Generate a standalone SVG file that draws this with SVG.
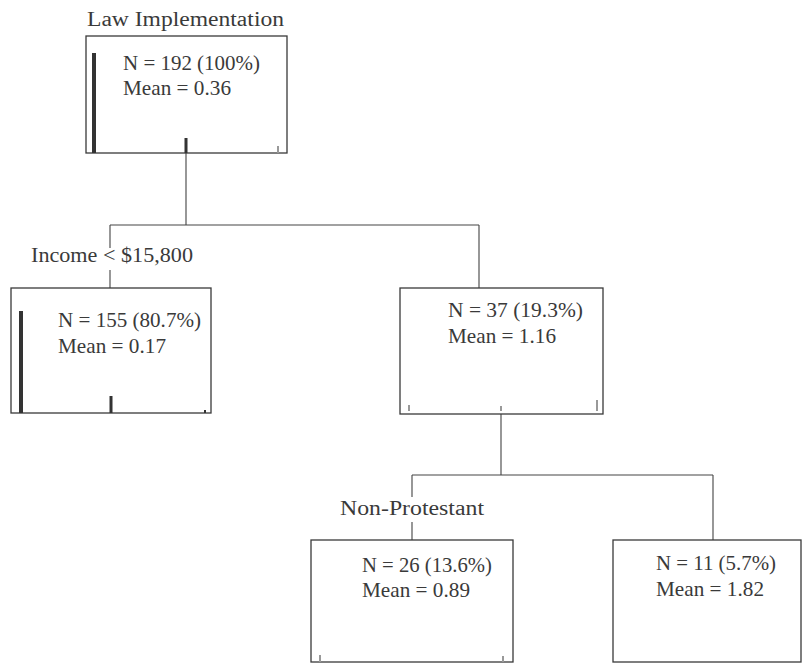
<svg xmlns="http://www.w3.org/2000/svg" width="802" height="664" viewBox="0 0 802 664">
<style>
.bg{fill:#fff}
.box{fill:none;stroke:#3a3a3a;stroke-width:1.3}
.ln{fill:none;stroke:#444;stroke-width:1.1}
.t{font-family:"Liberation Serif","DejaVu Serif",serif;font-size:21px;fill:#3a3a3a}
.lbl{font-family:"Liberation Serif","DejaVu Serif",serif;font-size:20px;fill:#3a3a3a}
.bar{fill:#333}
.tiny{fill:#999}
</style>
<rect class="bg" x="0" y="0" width="802" height="664"/>
<g id="connectors">
<path class="ln" d="M186,153 V225 M110,225 H479 M110,225 V248 M110,270 V288 M479,225 V288"/>
<path class="ln" d="M501,414 V475 M412,475 H713 M412,475 V497 M412,522 V540 M713,475 V540"/>
</g>
<g id="root">
<text class="lbl" x="87" y="26" textLength="197" lengthAdjust="spacingAndGlyphs">Law Implementation</text>
<rect class="box" x="86" y="36" width="201" height="117"/>
<rect class="bar" x="92" y="53" width="4" height="100"/>
<rect class="bar" x="184.5" y="138" width="3" height="15"/>
<rect class="tiny" x="277" y="146" width="2" height="7"/>
<text class="t" x="123" y="70" textLength="137" lengthAdjust="spacingAndGlyphs">N = 192 (100%)</text>
<text class="t" x="123" y="95" textLength="108" lengthAdjust="spacingAndGlyphs">Mean = 0.36</text>
</g>
<g id="left">
<text class="lbl" x="31" y="262" textLength="162" lengthAdjust="spacingAndGlyphs">Income &lt; $15,800</text>
<rect class="box" x="11" y="288" width="200" height="125"/>
<rect class="bar" x="19" y="311" width="4" height="102"/>
<rect class="bar" x="109.5" y="396" width="3" height="17"/>
<rect class="bar" x="204" y="410" width="2" height="3"/>
<text class="t" x="58" y="327" textLength="143" lengthAdjust="spacingAndGlyphs">N = 155 (80.7%)</text>
<text class="t" x="58" y="353" textLength="108" lengthAdjust="spacingAndGlyphs">Mean = 0.17</text>
</g>
<g id="middle">
<rect class="box" x="400" y="288" width="203" height="126"/>
<rect class="tiny" x="408" y="405" width="2" height="6"/>
<rect class="tiny" x="500" y="406" width="2" height="5"/>
<rect class="tiny" x="596" y="400" width="2" height="11"/>
<text class="t" x="448" y="317" textLength="135" lengthAdjust="spacingAndGlyphs">N = 37 (19.3%)</text>
<text class="t" x="448" y="343" textLength="108" lengthAdjust="spacingAndGlyphs">Mean = 1.16</text>
</g>
<g id="nonprot">
<text class="lbl" x="340" y="515" textLength="144" lengthAdjust="spacingAndGlyphs">Non-Protestant</text>
<rect class="box" x="311" y="540" width="202" height="122"/>
<rect class="tiny" x="319" y="655" width="2" height="7"/>
<rect class="tiny" x="502" y="656" width="2" height="6"/>
<text class="t" x="362" y="572" textLength="130" lengthAdjust="spacingAndGlyphs">N = 26 (13.6%)</text>
<text class="t" x="362" y="597" textLength="108" lengthAdjust="spacingAndGlyphs">Mean = 0.89</text>
</g>
<g id="prot">
<rect class="box" x="613" y="540" width="188" height="122"/>
<text class="t" x="656" y="570" textLength="120" lengthAdjust="spacingAndGlyphs">N = 11 (5.7%)</text>
<text class="t" x="656" y="596" textLength="108" lengthAdjust="spacingAndGlyphs">Mean = 1.82</text>
</g>
</svg>
